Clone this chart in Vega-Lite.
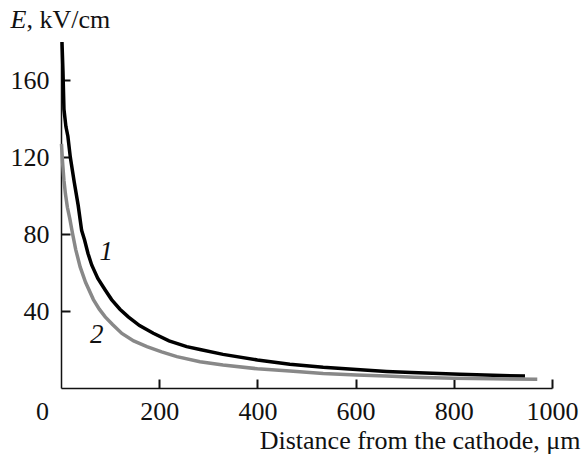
{
  "$schema": "https://vega.github.io/schema/vega-lite/v6.json",
  "width": 491,
  "height": 346,
  "autosize": {"type": "none"},
  "padding": {"left": 61, "top": 42, "right": 30, "bottom": 68},
  "background": "white",
  "config": {
    "view": {"stroke": null},
    "font": "Liberation Serif",
    "axis": {
      "labelFont": "Liberation Serif",
      "titleFont": "Liberation Serif",
      "labelFontSize": 26,
      "titleFontSize": 26,
      "labelColor": "#111",
      "titleColor": "#111",
      "titleFontWeight": "normal",
      "domainColor": "#111",
      "domainWidth": 1.5,
      "tickColor": "#111",
      "tickWidth": 2,
      "grid": false
    }
  },
  "datasets": {
    "curves": [
      {"curve": "1", "x": 2, "E": 180},
      {"curve": "1", "x": 4, "E": 165},
      {"curve": "1", "x": 6, "E": 145},
      {"curve": "1", "x": 10, "E": 136},
      {"curve": "1", "x": 14, "E": 131},
      {"curve": "1", "x": 19, "E": 120},
      {"curve": "1", "x": 27, "E": 107},
      {"curve": "1", "x": 35, "E": 95},
      {"curve": "1", "x": 42, "E": 82},
      {"curve": "1", "x": 48, "E": 77},
      {"curve": "1", "x": 55, "E": 70},
      {"curve": "1", "x": 62.5, "E": 64},
      {"curve": "1", "x": 75, "E": 57},
      {"curve": "1", "x": 90, "E": 51},
      {"curve": "1", "x": 103, "E": 46},
      {"curve": "1", "x": 120, "E": 41},
      {"curve": "1", "x": 137, "E": 37},
      {"curve": "1", "x": 160, "E": 32.5},
      {"curve": "1", "x": 188, "E": 28.5},
      {"curve": "1", "x": 220, "E": 24.5},
      {"curve": "1", "x": 256, "E": 21.5},
      {"curve": "1", "x": 283, "E": 20},
      {"curve": "1", "x": 330, "E": 17.5},
      {"curve": "1", "x": 400, "E": 14.6},
      {"curve": "1", "x": 466, "E": 12.4},
      {"curve": "1", "x": 534, "E": 10.8},
      {"curve": "1", "x": 602, "E": 9.6},
      {"curve": "1", "x": 663, "E": 8.6},
      {"curve": "1", "x": 714, "E": 8},
      {"curve": "1", "x": 812, "E": 7.1},
      {"curve": "1", "x": 880, "E": 6.6},
      {"curve": "1", "x": 945, "E": 6.2},
      {"curve": "2", "x": 1, "E": 127},
      {"curve": "2", "x": 3, "E": 118},
      {"curve": "2", "x": 6, "E": 108},
      {"curve": "2", "x": 9, "E": 101},
      {"curve": "2", "x": 13, "E": 94},
      {"curve": "2", "x": 18, "E": 88},
      {"curve": "2", "x": 23, "E": 81},
      {"curve": "2", "x": 30, "E": 72},
      {"curve": "2", "x": 39, "E": 63},
      {"curve": "2", "x": 50, "E": 55},
      {"curve": "2", "x": 66, "E": 46},
      {"curve": "2", "x": 78, "E": 41},
      {"curve": "2", "x": 90, "E": 37},
      {"curve": "2", "x": 105, "E": 33},
      {"curve": "2", "x": 124, "E": 28.4},
      {"curve": "2", "x": 148, "E": 24.5},
      {"curve": "2", "x": 175, "E": 21.5},
      {"curve": "2", "x": 205, "E": 18.8},
      {"curve": "2", "x": 236, "E": 16.3},
      {"curve": "2", "x": 283, "E": 13.7},
      {"curve": "2", "x": 330, "E": 12},
      {"curve": "2", "x": 400, "E": 10},
      {"curve": "2", "x": 466, "E": 8.8},
      {"curve": "2", "x": 534, "E": 7.6},
      {"curve": "2", "x": 602, "E": 6.8},
      {"curve": "2", "x": 663, "E": 6.2},
      {"curve": "2", "x": 720, "E": 5.6},
      {"curve": "2", "x": 800, "E": 5.1},
      {"curve": "2", "x": 880, "E": 4.8},
      {"curve": "2", "x": 970, "E": 4.5}
    ],
    "labels": [
      {"label": "1", "x": 92, "E": 70.5},
      {"label": "2", "x": 73, "E": 27.6}
    ]
  },
  "resolve": {
    "scale": {"x": "independent", "y": "independent"},
    "axis": {"x": "independent", "y": "independent"}
  },
  "layer": [
    {
      "data": {"name": "curves"},
      "transform": [{"filter": "datum.curve === '1'"}],
      "mark": {"type": "line", "color": "#000000", "strokeWidth": 3.5},
      "encoding": {
        "x": {
          "field": "x", "type": "quantitative",
          "scale": {"domain": [0, 1000], "nice": false},
          "axis": {
            "orient": "bottom",
            "values": [0, 200, 400, 600, 800, 1000],
            "format": "d",
            "ticks": false,
            "tickSize": 0,
            "labelPadding": 10,
            "labelOffset": {"condition": {"test": "datum.value === 0", "value": -19}, "value": 0},
            "labelFlush": false,
            "labelOverlap": false,
            "title": "Distance from the cathode, μm",
            "titleAlign": "right",
            "titleBaseline": "alphabetic",
            "titleX": 519,
            "titleY": 60
          }
        },
        "y": {
          "field": "E", "type": "quantitative",
          "scale": {"domain": [0, 180], "nice": false},
          "axis": {
            "orient": "left",
            "values": [40, 80, 120, 160],
            "ticks": false,
            "tickSize": 0,
            "labelPadding": 12,
            "title": "E",
            "titleFontStyle": "italic",
            "titleAngle": 0,
            "titleAlign": "left",
            "titleBaseline": "alphabetic",
            "titleX": -51,
            "titleY": -15
          }
        }
      }
    },
    {
      "data": {"name": "curves"},
      "transform": [{"filter": "datum.curve === '2'"}],
      "mark": {"type": "line", "color": "#888888", "strokeWidth": 3.5},
      "encoding": {
        "x": {
          "field": "x", "type": "quantitative",
          "scale": {"domain": [0, 1000], "nice": false},
          "axis": {
            "orient": "bottom",
            "offset": -9,
            "values": [200, 400, 600, 800, 1000],
            "domain": false,
            "labels": false,
            "ticks": true,
            "tickSize": 9,
            "title": null
          }
        },
        "y": {
          "field": "E", "type": "quantitative",
          "scale": {"domain": [0, 180], "nice": false},
          "axis": {
            "orient": "left",
            "offset": -9,
            "values": [40, 80, 120, 160],
            "domain": false,
            "labels": false,
            "ticks": true,
            "tickSize": 9,
            "title": null
          }
        }
      }
    },
    {
      "data": {"name": "labels"},
      "mark": {"type": "text", "font": "Liberation Serif", "fontSize": 27, "fontStyle": "italic", "color": "#111", "align": "center", "baseline": "middle"},
      "encoding": {
        "x": {"field": "x", "type": "quantitative", "scale": {"domain": [0, 1000], "nice": false}, "axis": null},
        "y": {
          "field": "E", "type": "quantitative",
          "scale": {"domain": [0, 180], "nice": false},
          "axis": {
            "orient": "right",
            "domain": false,
            "ticks": false,
            "labels": false,
            "title": ", kV/cm",
            "titleAngle": 0,
            "titleAlign": "left",
            "titleBaseline": "alphabetic",
            "titleX": -526,
            "titleY": -15
          }
        },
        "text": {"field": "label"}
      }
    }
  ]
}
